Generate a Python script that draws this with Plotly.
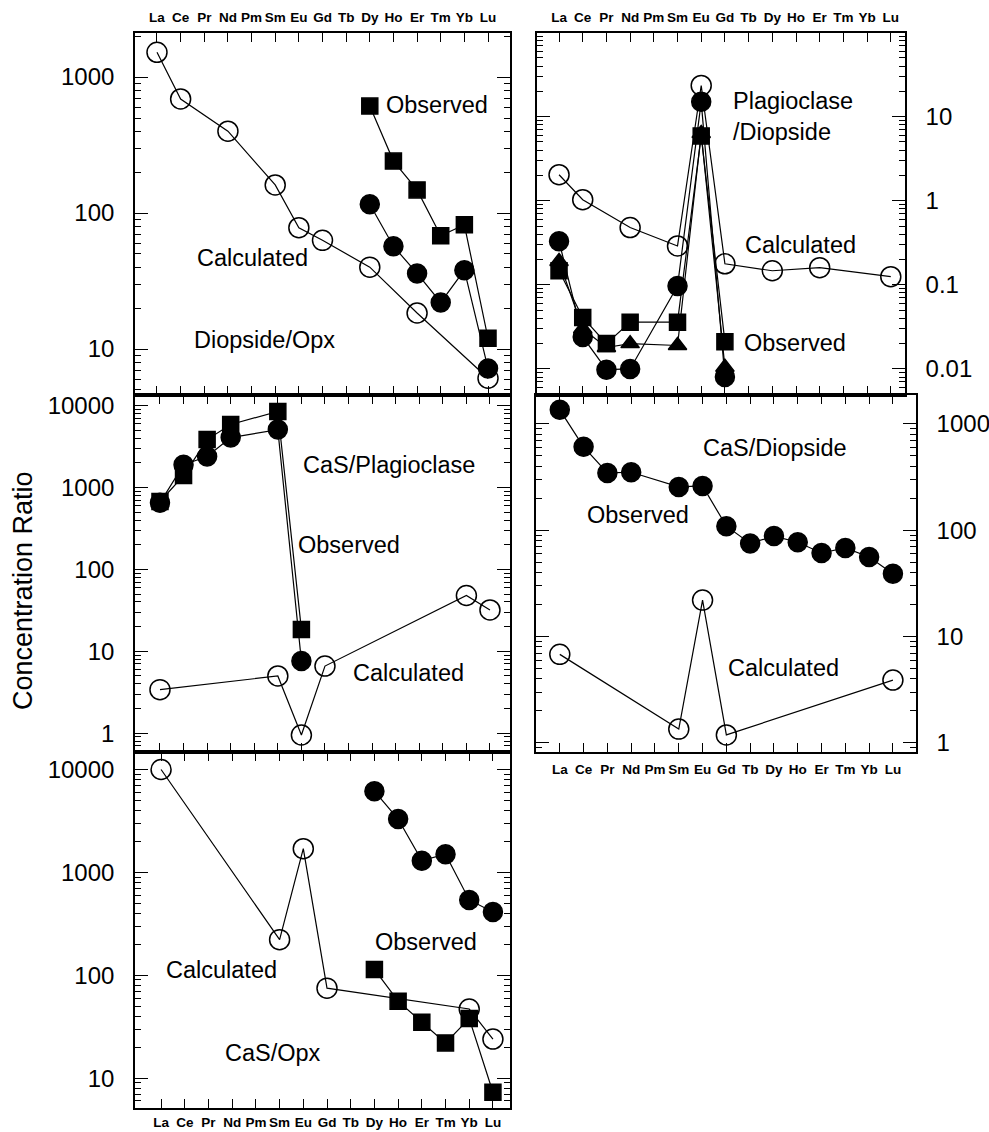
import plotly.graph_objects as go

W, H = 989, 1132
ELEMENTS = ["La", "Ce", "Pr", "Nd", "Pm", "Sm", "Eu", "Gd", "Tb", "Dy", "Ho", "Er", "Tm", "Yb", "Lu"]

# Panel 1: Diopside/Opx
p1_calc_x = ["La", "Ce", "Nd", "Sm", "Eu", "Gd", "Dy", "Er", "Lu"]
p1_calc_y = [1520, 690, 400, 161, 78, 63, 40, 18.4, 6.1]
p1_obs_x = ["Dy", "Ho", "Er", "Tm", "Yb", "Lu"]
p1_obs_sq = [612, 241, 148, 68, 82, 12]
p1_obs_ci = [116, 57, 36, 22, 38, 7.2]

# Panel 2: Plagioclase/Diopside
p2_calc_x = ["La", "Ce", "Nd", "Sm", "Eu", "Gd", "Dy", "Er", "Lu"]
p2_calc_y = [2.04, 1.03, 0.48, 0.29, 23.5, 0.178, 0.147, 0.16, 0.125]
p2_obs_x = ["La", "Ce", "Pr", "Nd", "Sm", "Eu", "Gd"]
p2_obs_ci = [0.33, 0.024, 0.0098, 0.010, 0.097, 15, 0.008]
p2_obs_sq = [0.147, 0.041, 0.020, 0.036, 0.036, 5.9, 0.021]
p2_obs_tr = [0.19, 0.030, 0.018, 0.020, 0.019, 6.3, 0.0105]

# Panel 3: CaS/Plagioclase
p3_calc_x = ["La", "Sm", "Eu", "Gd", "Yb", "Lu"]
p3_calc_y = [3.4, 5.0, 0.95, 6.6, 48, 32]
p3_obs_x = ["La", "Ce", "Pr", "Nd", "Sm", "Eu"]
p3_obs_sq = [675, 1400, 3850, 5880, 8500, 18.5]
p3_obs_ci = [650, 1900, 2390, 4070, 5100, 7.6]

# Panel 4: CaS/Diopside
p4_calc_x = ["La", "Sm", "Eu", "Gd", "Lu"]
p4_calc_y = [6.8, 1.35, 22, 1.19, 3.9]
p4_obs_x = ELEMENTS
p4_obs_ci = [1350, 607, 345, 350, None, 255, 260, 109, 75, 88, 77, 61, 68, 56, 39]

# Panel 5: CaS/Opx
p5_calc_x = ["La", "Sm", "Eu", "Gd", "Yb", "Lu"]
p5_calc_y = [10000, 222, 1700, 75, 47, 24]
p5_obs_x = ["Dy", "Ho", "Er", "Tm", "Yb", "Lu"]
p5_obs_ci = [6150, 3300, 1300, 1500, 540, 412]
p5_obs_sq = [114, 56, 35, 22, 38, 7.3]

FONT = "Liberation Sans, Arial, sans-serif"

fig = go.Figure()


def add(x, y, symbol, size, axis):
    xa, ya = axis
    fig.add_trace(go.Scatter(
        x=x, y=y, mode="lines+markers", xaxis=xa, yaxis=ya,
        connectgaps=True,
        line=dict(color="black", width=1.2),
        marker=dict(symbol=symbol, size=size, color="black",
                    line=dict(color="black", width=1.5)),
        showlegend=False, hoverinfo="skip"))


P1, P2, P3, P4, P5 = ("x", "y"), ("x2", "y2"), ("x3", "y3"), ("x4", "y4"), ("x5", "y5")

add(p1_calc_x, p1_calc_y, "circle-open", 20, P1)
add(p1_obs_x, p1_obs_sq, "square", 16, P1)
add(p1_obs_x, p1_obs_ci, "circle", 19, P1)

add(p2_calc_x, p2_calc_y, "circle-open", 20, P2)
add(p2_obs_x, p2_obs_tr, "triangle-up", 16, P2)
add(p2_obs_x, p2_obs_sq, "square", 16, P2)
add(p2_obs_x, p2_obs_ci, "circle", 19, P2)

add(p3_calc_x, p3_calc_y, "circle-open", 20, P3)
add(p3_obs_x, p3_obs_sq, "square", 16, P3)
add(p3_obs_x, p3_obs_ci, "circle", 19, P3)

add(p4_calc_x, p4_calc_y, "circle-open", 20, P4)
add(p4_obs_x, p4_obs_ci, "circle", 19, P4)

add(p5_calc_x, p5_calc_y, "circle-open", 20, P5)
add(p5_obs_x, p5_obs_ci, "circle", 19, P5)
add(p5_obs_x, p5_obs_sq, "square", 16, P5)


def xd(a, b):
    return [a / W, b / W]


def yd(top, bot):
    return [1 - bot / H, 1 - top / H]


def xaxis(dom, rng, anchor, side=None, labels=True, standoff=4):
    d = dict(domain=dom, range=rng, anchor=anchor, type="category",
             categoryorder="array", categoryarray=ELEMENTS,
             tickvals=ELEMENTS, ticktext=ELEMENTS, tickangle=0, automargin=False,
             showline=True, linecolor="black", linewidth=1.6, mirror="ticks",
             ticks="inside", ticklen=9, tickwidth=1.2, tickcolor="black",
             showgrid=False, zeroline=False, showticklabels=labels,
             ticklabelstandoff=standoff,
             tickfont=dict(family=FONT, size=13.5, color="black", weight="bold"))
    if side:
        d["side"] = side
    return d


def yaxis(dom, rng, anchor, side):
    return dict(domain=dom, range=rng, anchor=anchor, type="log", automargin=False,
                tickmode="linear", tick0=0, dtick=1, tickformat="~g",
                side=side, showline=True, linecolor="black", linewidth=1.6,
                mirror="ticks", ticks="inside", ticklen=13, tickwidth=1.2,
                tickcolor="black", showgrid=False, zeroline=False,
                ticklabelstandoff=14,
                minor=dict(ticks="inside", ticklen=6, tickwidth=1, tickcolor="black",
                           dtick="D1", showgrid=False),
                tickfont=dict(family=FONT, size=24, color="black"))


LX = xd(135, 510)
fig.update_layout(
    width=W, height=H, margin=dict(l=0, r=0, t=0, b=0, autoexpand=False),
    paper_bgcolor="white", plot_bgcolor="white",
    xaxis=xaxis(LX, [-0.93, 14.93], "y", side="top"),
    yaxis=yaxis(yd(33, 395), [0.662, 3.324], "x", "left"),
    xaxis2=xaxis(xd(537, 905), [-0.93, 14.6], "y2", side="top"),
    yaxis2=yaxis(yd(33, 395), [-2.31, 1.995], "x2", "right"),
    xaxis3=xaxis(LX, [-1.06, 14.85], "y3", labels=False),
    yaxis3=yaxis(yd(395, 752), [-0.23, 4.13], "x3", "left"),
    xaxis4=xaxis(xd(536, 916), [-1.0, 14.97], "y4", side="bottom"),
    yaxis4=yaxis(yd(395, 752), [-0.085, 3.27], "x4", "right"),
    xaxis5=xaxis(LX, [-1.1, 14.72], "y5", side="bottom", standoff=1),
    yaxis5=yaxis(yd(752, 1108), [0.71, 4.17], "x5", "left"),
)


def label(text, px, py, anchor="center", size=23.5, angle=0):
    fig.add_annotation(text=text, x=px / W, y=1 - py / H, xref="paper", yref="paper",
                       xanchor=anchor, yanchor="middle", showarrow=False, align="left",
                       textangle=angle,
                       font=dict(family=FONT, size=size, color="black"))


label("Observed", 437, 105)
label("Calculated", 252, 258)
label("Diopside/Opx", 264, 340)

label("Plagioclase<br>/Diopside", 731, 117, anchor="left")
label("Calculated", 800, 245)
label("Observed", 795, 343)

label("CaS/Plagioclase", 389, 465)
label("Observed", 349, 545)
label("Calculated", 408, 673)

label("CaS/Diopside", 775, 448)
label("Observed", 638, 515)
label("Calculated", 783, 668)

label("Observed", 426, 942)
label("Calculated", 221, 970)
label("CaS/Opx", 273, 1053)

label("Concentration Ratio", 23, 591, size=27, angle=-90)

fig.write_html("out.html")
